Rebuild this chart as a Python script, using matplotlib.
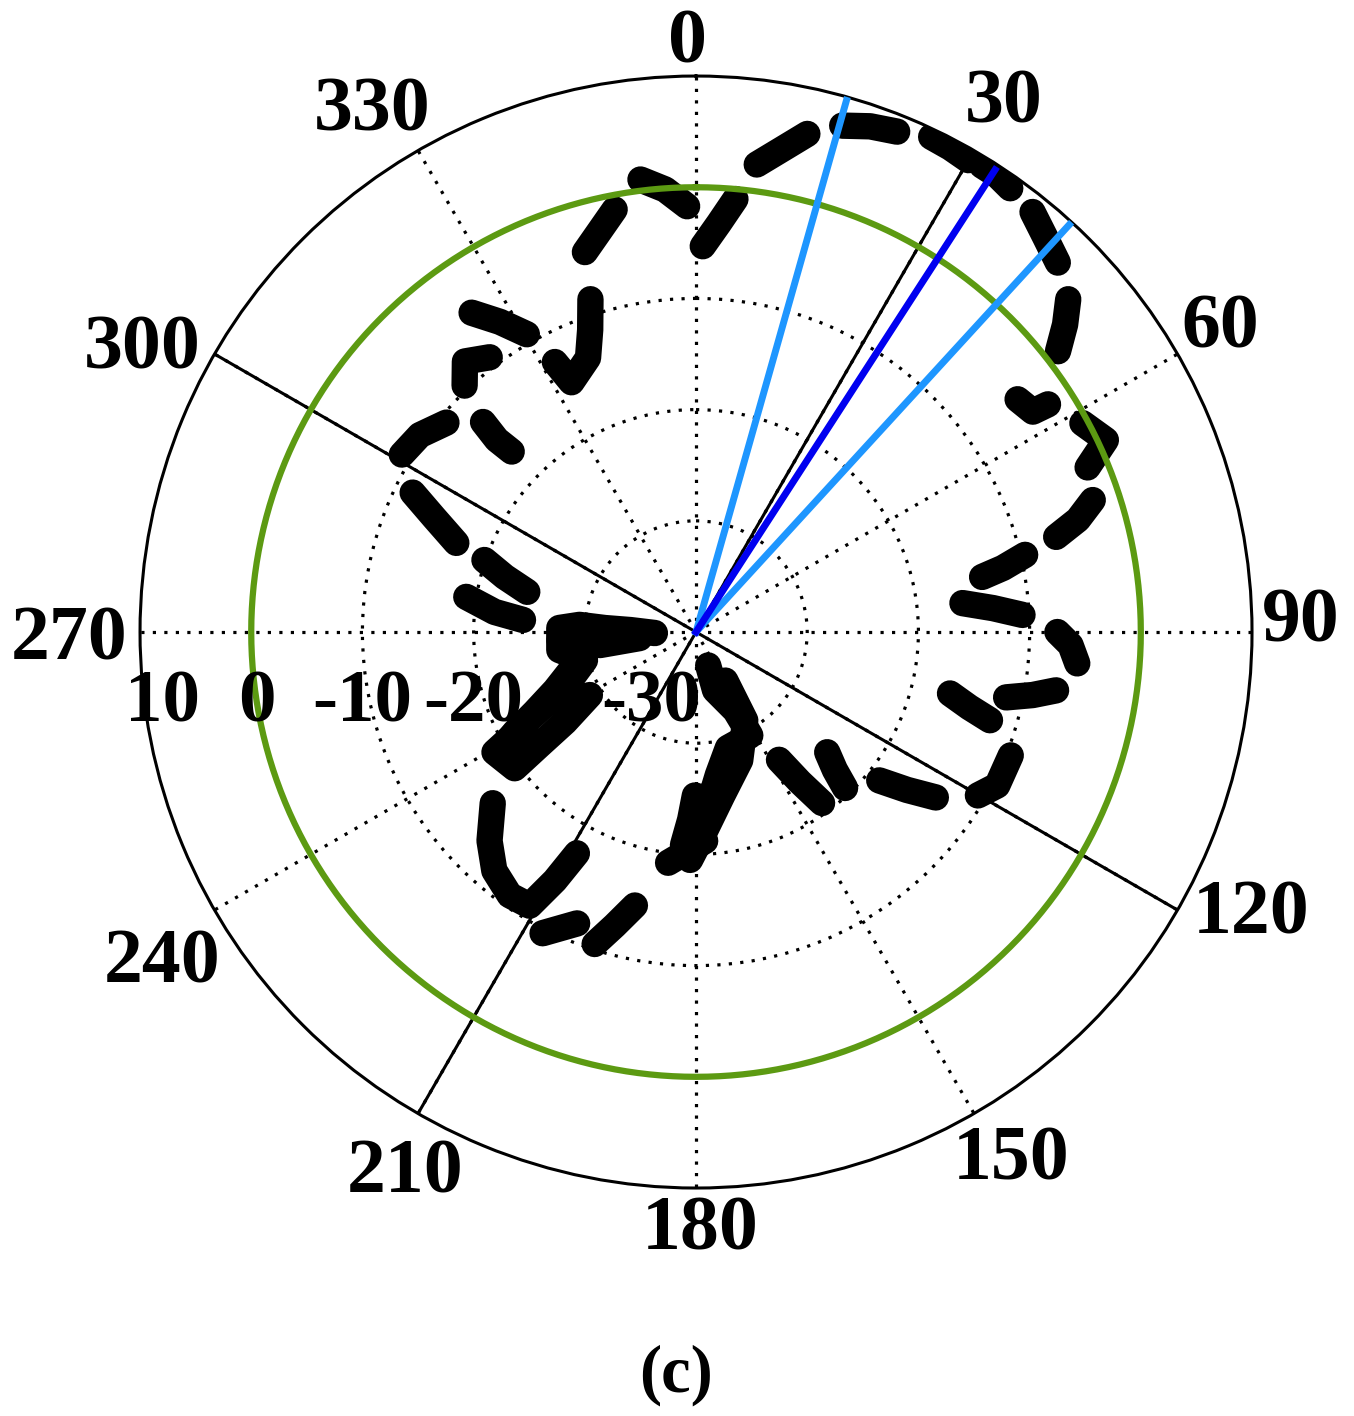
import numpy as np
import matplotlib.pyplot as plt
from matplotlib.transforms import ScaledTranslation

plt.rcParams['font.family'] = ['Liberation Serif', 'DejaVu Serif']
plt.rcParams['font.weight'] = 'bold'

# measured pattern (dB), one short trace per blob, angles in degrees
blob_theta = [
    [353.0, 356.0, 358.8],          # near 0, on the 0 dB ring
    [5.2, 3.2, 1.0],
    [349.1, 346.5, 343.7],
    [7.4, 10.1, 12.6],
    [16.1, 19.0, 21.9],
    [25.4, 27.7, 30.0],
    [31.5, 33.4, 35.3],
    [38.7, 41.5, 44.4],
    [48.2, 50.2, 52.2],
    [54.1, 56.8, 57.1],
    [61.6, 64.9, 67.2],
    [71.6, 73.6, 75.2],
    [79.1, 78.2, 76.8],
    [83.8, 85.4, 87.0],
    [90.0, 92.0, 94.7],
    [101.9, 100.6, 99.2],
    [103.6, 105.4, 106.7],
    [120.1, 117.0, 111.4],
    [129.0, 126.8, 124.6],
    [132.5, 134.8, 136.3],
    [147.0, 145.3, 143.6],
    [160.0, 161.9, 153.4, 152.3, 164.6, 171.3, 175.2, 180.4, 181.8, 183.5, 177.5, 186.9],
    [148.9, 150.9, 161.0, 170.9, 177.4, 181.5],
    [229.9, 224.7, 220.2, 215.3, 211.3, 209.6, 208.3],
    [207.0, 202.2],
    [198.0, 195.5, 192.6],
    [268.6, 271.7, 272.5, 273.5, 271.7, 262.5, 255.8, 249.1, 245.0, 242.6,
     240.3, 239.2, 233.1, 234.1, 235.5, 239.3],
    [254.7, 247.6, 243.6, 241.1, 238.9],
    [266.6, 262.3, 263.9],
    [288.8, 286.1, 283.4],
    [278.7, 275.7, 274.0],
    [296.2, 293.6, 290.4],
    [301.1, 305.5, 310.0],
    [314.6, 314.0, 314.4],
    [323.1, 319.5, 316.8],
    [324.9, 327.7, 330.4],
    [342.4, 340.7, 338.5, 333.5, 332.4],
]
blob_r = [
    [1.0, -0.1, -1.7],
    [-0.9, -3.2, -5.3],
    [-1.3, -2.9, -4.4],
    [2.4, 4.1, 5.9],
    [7.4, 8.1, 8.5],
    [9.3, 9.2, 9.0],
    [9.2, 9.2, 8.9],
    [8.4, 7.4, 6.5],
    [4.9, 3.2, 1.2],
    [-4.3, -3.8, -2.3],
    [-0.5, 0.7, -1.8],
    [-2.4, -4.2, -6.5],
    [-13.8, -11.8, -9.6],
    [-15.9, -13.2, -10.6],
    [-7.5, -6.3, -5.6],
    [-11.5, -9.2, -7.2],
    [-16.5, -14.5, -12.4],
    [-10.7, -9.6, -9.6],
    [-18.8, -16.3, -13.8],
    [-24.0, -22.4, -20.6],
    [-26.3, -23.6, -20.9],
    [-36.8, -34.5, -32.1, -29.5, -29.2, -27.0, -24.8, -25.3, -23.1, -20.8, -21.2, -19.1],
    [-34.9, -30.9, -27.8, -25.1, -22.1, -19.5],
    [-16.1, -13.6, -11.9, -11.0, -11.2, -14.3, -17.4],
    [-9.6, -11.7],
    [-10.5, -12.6, -14.8],
    [-36.3, -34.1, -31.8, -29.5, -27.7, -27.6, -29.7, -27.9, -25.5, -23.2,
     -20.7, -18.9, -19.6, -22.6, -25.7, -28.9],
    [-28.7, -26.3, -23.8, -21.4, -19.4],
    [-27.7, -31.3, -34.9],
    [-19.9, -22.1, -24.4],
    [-19.1, -21.8, -24.4],
    [-11.6, -14.3, -17.0],
    [-9.1, -9.5, -10.7],
    [-13.1, -15.1, -16.8],
    [-9.1, -8.0, -9.6],
    [-4.9, -7.0, -9.2],
    [-8.6, -11.2, -13.5, -14.9, -12.6],
]

r_min, r_max = -40, 10
r_ticks = [-30, -20, -10, 0]
r_labels = ['10', '0', '-10', '-20', '-30']
r_label_pos = [8, -0.5, -10, -20, -36]

theta_ticks = list(range(0, 360, 30))
theta_labels = [str(t) for t in theta_ticks]
# where each angle label sits (deg, dB beyond the outer ring)
theta_label_ang = [359.2, 30.0, 59.6, 88.7, 116.6, 149.0, 179.6, 208.5, 238.5, 269.6, 297.4, 328.3]
theta_label_r = [13.3, 15.3, 14.7, 14.4, 15.8, 15.0, 13.4, 14.9, 16.3, 16.4, 16.1, 15.5]

ref_level = 0                      # green reference ring
axis_lines = [30, 120]             # solid black diameters
beam_edges = [15.8, 42.5]          # light blue
beam_centre = 32.9                 # dark blue
beam_centre_r = 9.5

fig = plt.figure(figsize=(13.54, 14.16), dpi=100)
ax = fig.add_axes([0.1034, 0.1610, 0.8213, 0.7853], projection='polar')
ax.set_theta_zero_location('N')
ax.set_theta_direction(-1)
ax.set_ylim(r_min, r_max)
ax.set_rticks(r_ticks)
ax.set_yticklabels([])
ax.set_thetagrids(theta_ticks, [''] * len(theta_ticks))
ax.grid(True, color='k', linestyle=(0, (1, 2.6)), linewidth=2.3)
ax.spines['polar'].set_linewidth(2.2)

for th, rr in zip(blob_theta, blob_r):
    ax.plot(np.radians(th), rr, color='k', lw=19, solid_capstyle='round',
            solid_joinstyle='round', zorder=3)

for a in axis_lines:
    ax.plot(np.radians([a, a]), [r_min, r_max], color='k', lw=2.2, zorder=4)
    ax.plot(np.radians([a + 180, a + 180]), [r_min, r_max], color='k', lw=2.2, zorder=4)

ring = np.linspace(0, 2 * np.pi, 721)
ax.plot(ring, np.full_like(ring, ref_level), color='#5c9a12', lw=4.5, zorder=5)

for a in beam_edges:
    ax.plot(np.radians([a, a]), [r_min, r_max], color='#1e96ff', lw=5, zorder=6)
ax.plot(np.radians([beam_centre, beam_centre]), [r_min, beam_centre_r],
        color='#0000f0', lw=5, zorder=7)

nudge = ScaledTranslation(0, -0.05, fig.dpi_scale_trans)
for lab, th, rv in zip(theta_labels, theta_label_ang, theta_label_r):
    ax.text(np.radians(th), rv, lab, transform=ax.transData + nudge,
            ha='center', va='center', fontsize=56, fontweight='bold', clip_on=False)

off = ScaledTranslation(0, -0.71, fig.dpi_scale_trans)
for lab, rv in zip(r_labels, r_label_pos):
    ax.text(np.radians(270), rv, lab, transform=ax.transData + off,
            ha='center', va='center', fontsize=54, fontweight='bold', zorder=8)

fig.text(0.499, 0.029, '(c)', ha='center', va='center', fontsize=48, fontweight='bold')

fig.savefig('out.png', dpi=100)
